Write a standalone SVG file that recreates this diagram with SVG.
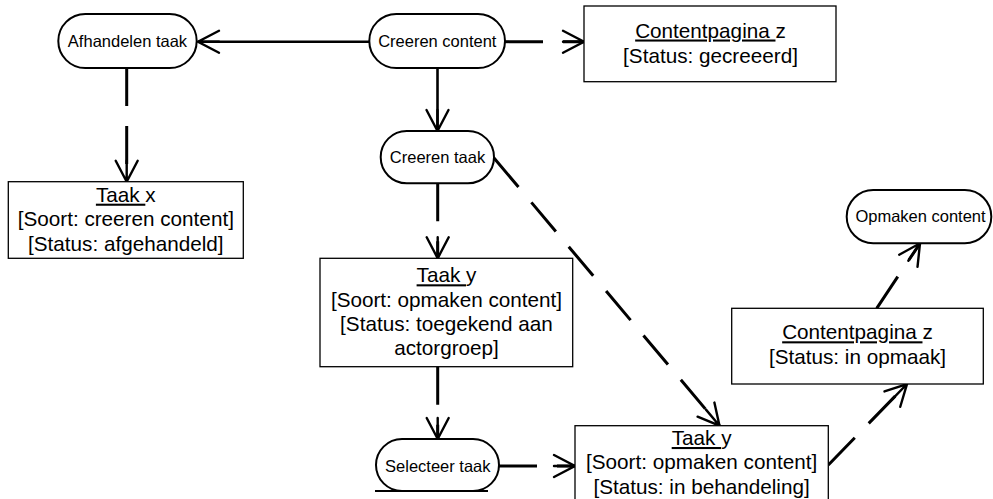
<svg xmlns="http://www.w3.org/2000/svg" width="993" height="499" viewBox="0 0 993 499">
  <style>
    text { font-family: "Liberation Sans", Arial, sans-serif; fill: #000; text-anchor: middle; }
    .act { fill: #fff; stroke: #000; stroke-width: 2; }
    .obj { fill: #fff; stroke: #000; stroke-width: 1.3; }
    .at { font-size: 16.5px; }
    .ot { font-size: 20.7px; }
    .u { text-decoration: underline; }
    .flow { fill: none; stroke: #000; stroke-width: 2.6; }
    .dash { fill: none; stroke: #000; stroke-width: 3; stroke-dasharray: 38 20; }
  </style>
  <defs>
    <!-- open arrowhead with a short solid shaft toward the tip -->
    <marker id="open" markerUnits="userSpaceOnUse" viewBox="-26 -15 30 30" refX="0" refY="0" markerWidth="30" markerHeight="30" orient="auto" overflow="visible">
      <path d="M-21,-11 L0,0 L-21,11 M-21,0 L0,0" fill="none" stroke="#000" stroke-width="2.4" stroke-dasharray="none" stroke-linecap="round" stroke-linejoin="miter"/>
    </marker>
  </defs>
  <rect x="0" y="0" width="993" height="499" fill="#fff"/>

  <g id="connectors">
    <line class="flow" x1="369" y1="41.7" x2="198" y2="41.7" marker-end="url(#open)"/>
    <line class="flow" x1="437.5" y1="68" x2="437.5" y2="131" marker-end="url(#open)"/>
    <line class="dash" x1="505" y1="41.7" x2="584" y2="41.7" marker-end="url(#open)"/>
    <line class="dash" x1="126.7" y1="68" x2="126.7" y2="181.7" marker-end="url(#open)"/>
    <line class="dash" x1="437.7" y1="183.3" x2="437.7" y2="258.3" marker-end="url(#open)"/>
    <line class="dash" x1="494" y1="158" x2="719.5" y2="425.7" marker-end="url(#open)"/>
    <line class="dash" x1="437.7" y1="366.7" x2="437.7" y2="439" marker-end="url(#open)"/>
    <line class="dash" x1="499" y1="466" x2="575" y2="466" marker-end="url(#open)"/>
    <line class="dash" x1="828.3" y1="465" x2="907" y2="384" marker-end="url(#open)"/>
    <line class="dash" x1="876.7" y1="308.3" x2="920" y2="243.3" marker-end="url(#open)"/>
  </g>

  <g id="afhandelen-taak">
    <rect class="act" x="58.3" y="14" width="138.4" height="54" rx="27"/>
    <text class="at" x="127.5" y="47">Afhandelen taak</text>
  </g>

  <g id="creeren-content">
    <rect class="act" x="369.3" y="14" width="135.7" height="54" rx="27"/>
    <text class="at" x="437.3" y="47">Creeren content</text>
  </g>

  <g id="contentpagina-gecreeerd">
    <rect class="obj" x="584" y="6" width="252" height="75.7"/>
    <text class="ot" x="710.5" y="37.5"><tspan class="u">Contentpagina </tspan>z</text>
    <text class="ot" x="710.5" y="62.5">[Status: gecreeerd]</text>
  </g>

  <g id="taak-x">
    <rect class="obj" x="8.3" y="181.7" width="235" height="76.6"/>
    <text class="ot" x="125.8" y="201.7"><tspan class="u">Taak </tspan>x</text>
    <text class="ot" x="125.8" y="226.2">[Soort: creeren content]</text>
    <text class="ot" x="125.8" y="250.7">[Status: afgehandeld]</text>
  </g>

  <g id="creeren-taak">
    <rect class="act" x="380.7" y="131" width="113.3" height="52.3" rx="26"/>
    <text class="at" x="437.5" y="163.3">Creeren taak</text>
  </g>

  <g id="taak-y-toegekend">
    <rect class="obj" x="320" y="258.3" width="252.7" height="108.4"/>
    <text class="ot" x="446.5" y="282.3"><tspan class="u">Taak </tspan>y</text>
    <text class="ot" x="446.5" y="306.8">[Soort: opmaken content]</text>
    <text class="ot" x="446.5" y="331.2">[Status: toegekend aan</text>
    <text class="ot" x="446.5" y="355.4">actorgroep]</text>
  </g>

  <g id="selecteer-taak">
    <rect class="act" x="376" y="439" width="123" height="52" rx="26"/>
    <line x1="375" y1="491" x2="488" y2="491" stroke="#000" stroke-width="2"/>
    <text class="at" x="437.8" y="471.7">Selecteer taak</text>
  </g>

  <g id="taak-y-behandeling">
    <rect class="obj" x="575" y="425.7" width="253.3" height="90"/>
    <text class="ot" x="701.6" y="445"><tspan class="u">Taak </tspan>y</text>
    <text class="ot" x="701.6" y="469.4">[Soort: opmaken content]</text>
    <text class="ot" x="701.6" y="493.5">[Status: in behandeling]</text>
  </g>

  <g id="contentpagina-opmaak">
    <rect class="obj" x="731.7" y="308.3" width="251.6" height="75.7"/>
    <text class="ot" x="857.5" y="339.3"><tspan class="u">Contentpagina </tspan>z</text>
    <text class="ot" x="857.5" y="363.5">[Status: in opmaak]</text>
  </g>

  <g id="opmaken-content">
    <rect class="act" x="846.7" y="190" width="144.6" height="53.3" rx="26.5"/>
    <text class="at" x="920.5" y="221.7">Opmaken content</text>
  </g>
</svg>
